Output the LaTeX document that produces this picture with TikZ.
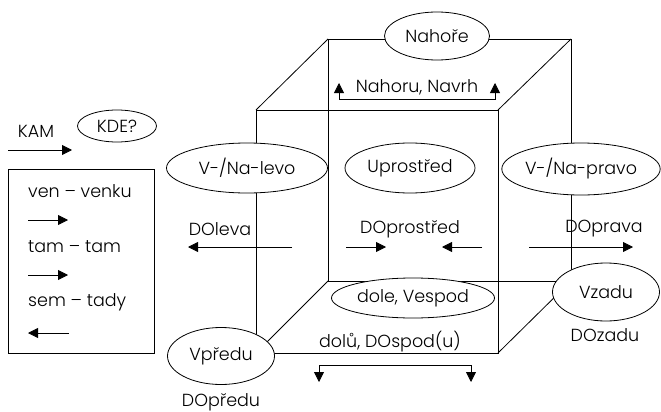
\documentclass[tikz,border=0pt]{standalone}
\usepackage{fontspec}
\setmainfont{Poppins}[UprightFont=* Light]
\usetikzlibrary{arrows.meta,positioning,shapes.geometric}

\tikzset{
  place/.style={draw, ellipse, fill=white, inner sep=0pt, line width=0.8pt},
  word/.style={inner sep=0pt},
  edge/.style={line width=0.8pt},
  dir/.style={line width=0.8pt, -{Triangle[length=10pt,width=10pt]}},
  twodir/.style={line width=0.8pt, {Triangle[length=10pt,width=10pt]}-{Triangle[length=10pt,width=10pt]}},
}

\begin{document}
\begin{tikzpicture}[x=1pt, y=-1pt, font=\fontsize{17.5}{19}\selectfont]
  \useasboundingbox (0,0) rectangle (661,412);

  % cube corners
  \coordinate (ftl) at (256,110);
  \coordinate (ftr) at (498,110);
  \coordinate (fbr) at (498,353);
  \coordinate (fbl) at (256,353);
  \coordinate (btl) at (328,39);
  \coordinate (btr) at (571,39);
  \coordinate (bbr) at (571,281);
  \coordinate (bbl) at (328,281);

  \draw [edge] (btl) -- (btr) -- (bbr) -- (bbl) -- cycle;
  \draw [edge] (ftl) -- (ftr) -- (fbr) -- (fbl) -- cycle;
  \draw [edge] (ftl) -- (btl);
  \draw [edge] (ftr) -- (btr);
  \draw [edge] (fbr) -- (bbr);
  \draw [edge] (fbl) -- (bbl);

  % places
  \node (nahore)  [place, minimum width=105pt, minimum height=48pt] at (437,36)  {Nahoře};
  \node (levo)    [place, minimum width=161pt, minimum height=50pt] at (247,168) {V-/Na-levo};
  \node (stred)   [place, minimum width=130pt, minimum height=50pt] at (410,168) {Uprostřed};
  \node (pravo)   [place, minimum width=158pt, minimum height=52pt] at (581,169) {V-/Na-pravo};
  \node (dole)    [place, minimum width=163pt, minimum height=40pt] at (413,298) {dole, Vespod};
  \node (vzadu)   [place, minimum width=107pt, minimum height=58pt] at (606,292) {Vzadu};
  \node (vpredu)  [place, minimum width=107pt, minimum height=57pt] at (221,356) {Vpředu};

  % directions
  \node (nahoru)   [word] at (417,87)  {Nahoru, Navrh};
  \node (doleva)   [word] at (220,229) {DOleva};
  \node (doprostr) [word] at (410,229) {DOprostřed};
  \node (doprava)  [word] at (604,229) {DOprava};
  \node (dolu)     [word] at (390,342) {dolů, DOspod(u)};
  \node (dozadu)   [word] at (605,335) {DOzadu};
  \node (dopredu)  [word] at (221,402) {DOpředu};

  \coordinate (upl) at (339,83);
  \coordinate (upr) at (495,83);
  \draw [twodir] (upl) -- ++(0,16) -| (upr);
  \coordinate (dnl) at (319,382);
  \coordinate (dnr) at (471,382);
  \draw [twodir] (dnl) -- ++(0,-17) -| (dnr);

  \coordinate (lva) at (292,247);
  \coordinate (lvb) at (188,247);
  \draw [dir] (lva) -- (lvb);
  \coordinate (sta) at (346,247);
  \coordinate (stb) at (386,247);
  \draw [dir] (sta) -- (stb);
  \coordinate (stc) at (482,247);
  \coordinate (std) at (442,247);
  \draw [dir] (stc) -- (std);
  \coordinate (pva) at (529,247);
  \coordinate (pvb) at (633,247);
  \draw [dir] (pva) -- (pvb);

  % legend
  \node (kam) [word] at (36,131) {KAM};
  \node (kde) [place, minimum width=79pt, minimum height=32pt] at (117,126) {KDE?};
  \coordinate (kama) at (8,150);
  \coordinate (kamb) at (72,150);
  \draw [dir] (kama) -- (kamb);

  \node (legend) [draw, line width=0.8pt, minimum width=146pt, minimum height=184pt] at (81,261) {};
  \node (ven) [word, anchor=west] at (28,191) {ven – venku};
  \node (tam) [word, anchor=west] at (28,247) {tam – tam};
  \node (sem) [word, anchor=west] at (28,302) {sem – tady};
  \coordinate (vena) at (28,220);
  \coordinate (venb) at (68,220);
  \draw [dir] (vena) -- (venb);
  \coordinate (tama) at (28,275);
  \coordinate (tamb) at (68,275);
  \draw [dir] (tama) -- (tamb);
  \coordinate (sema) at (69,333);
  \coordinate (semb) at (28,333);
  \draw [dir] (sema) -- (semb);
\end{tikzpicture}
\end{document}
